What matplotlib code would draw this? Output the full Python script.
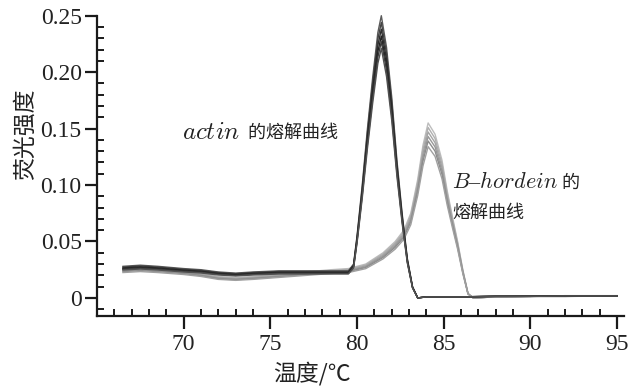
import matplotlib
matplotlib.use("Agg")
import matplotlib.pyplot as plt
from matplotlib.ticker import FixedLocator, FuncFormatter

plt.rcParams['font.family'] = ['Liberation Serif', 'Noto Sans CJK SC']
plt.rcParams['mathtext.fontset'] = 'cm'

# actin 熔解曲线 (temperature, fluorescence of the tallest replicate)
actin_temp = [66.5, 67.5, 68.5, 70.0, 71.0, 72.0, 73.0, 74.0, 75.5, 77.0, 78.5, 79.5,
              79.8, 80.0, 80.3, 80.6, 80.9, 81.2, 81.4, 81.7, 82.0, 82.3, 82.6, 82.9,
              83.2, 83.5, 84.0, 86.0, 88.0, 90.0, 92.0, 95.0]
actin_fluo = [0.028, 0.029, 0.028, 0.026, 0.025, 0.023, 0.022, 0.023, 0.024, 0.024, 0.024, 0.024,
              0.030, 0.055, 0.100, 0.150, 0.195, 0.235, 0.250, 0.222, 0.178, 0.122, 0.075, 0.035,
              0.010, 0.000, 0.001, 0.001, 0.0015, 0.0015, 0.002, 0.002]
actin_peaks = [0.250, 0.244, 0.238, 0.232, 0.227, 0.221]
actin_colors = ['#5a5a5a', '#444444', '#2e2e2e', '#222222', '#3a3a3a', '#505050']

# B-hordein 熔解曲线
hord_temp = [66.5, 67.5, 68.5, 70.0, 71.0, 72.0, 73.0, 74.0, 75.5, 77.0, 78.5, 79.5,
             80.5, 81.5, 82.2, 82.7, 83.1, 83.5, 83.8, 84.1, 84.5, 84.9, 85.2, 85.5,
             85.8, 86.1, 86.4, 86.7, 88.0, 90.0, 92.0, 95.0]
hord_fluo = [0.026, 0.027, 0.026, 0.024, 0.022, 0.019, 0.018, 0.019, 0.021, 0.023, 0.025, 0.026,
             0.030, 0.040, 0.050, 0.060, 0.075, 0.105, 0.135, 0.155, 0.145, 0.122, 0.095, 0.072,
             0.050, 0.025, 0.004, 0.000, 0.001, 0.0015, 0.0015, 0.002]
hord_peaks = [0.155, 0.151, 0.147, 0.143, 0.139, 0.134]
hord_colors = ['#bdbdbd', '#b0b0b0', '#a4a4a4', '#989898', '#8c8c8c', '#a0a0a0']

x_major = [70, 75, 80, 85, 90, 95]
x_minor = list(range(66, 96))
y_major = [0, 0.05, 0.10, 0.15, 0.20, 0.25]
y_minor = [-0.01] + [i / 100 for i in range(1, 25)]

fig = plt.figure(figsize=(6.44, 3.88), dpi=100)
ax = fig.add_axes([0.1506, 0.1856, 0.8184, 0.7739])

for pk, c in zip(hord_peaks, hord_colors):
    s = pk / max(hord_fluo)
    ax.plot(hord_temp, [v * s for v in hord_fluo], color=c, lw=1.0, clip_on=False)
for pk, c in zip(actin_peaks, actin_colors):
    s = pk / max(actin_fluo)
    ax.plot(actin_temp, [v * s for v in actin_fluo], color=c, lw=1.0, clip_on=False)

ax.set_xlim(65, 95.4)
ax.set_ylim(-0.016, 0.25)

for side in ['top', 'right']:
    ax.spines[side].set_visible(False)
for side in ['left', 'bottom']:
    ax.spines[side].set_linewidth(1.6)
    ax.spines[side].set_color('#1a1a1a')

ax.xaxis.set_major_locator(FixedLocator(x_major))
ax.xaxis.set_minor_locator(FixedLocator(x_minor))
ax.yaxis.set_major_locator(FixedLocator(y_major))
ax.yaxis.set_minor_locator(FixedLocator(y_minor))
ax.yaxis.set_major_formatter(FuncFormatter(lambda v, p: '0' if abs(v) < 1e-9 else f'{v:.2f}'))

ax.tick_params(which='major', direction='out', length=9, width=1.6, color='#1a1a1a',
               labelsize=17, labelcolor='#222222', pad=2)
ax.tick_params(axis='x', which='major', pad=4)
ax.tick_params(which='minor', direction='in', length=5, width=1.4, color='#1a1a1a')

ax.set_xlabel('温度/℃', fontsize=16.5, color='#222222', family=['Noto Sans CJK SC'],
              va='center')
ax.xaxis.set_label_coords(0.408, -0.193)
ax.set_ylabel('荧光强度', fontsize=16.5, color='#222222', family=['Noto Sans CJK SC'],
              va='center')
ax.yaxis.set_label_coords(-0.136, 0.606)

# 注释文字
t1 = ax.text(69.9, 0.146, r'$actin$', fontsize=18, color='#222222', ha='left', va='center')
ax.annotate('  的熔解曲线', xy=(1, 0.5), xycoords=t1, fontsize=13, color='#222222',
            family=['Noto Sans CJK SC'], ha='left', va='center')
t2 = ax.text(85.5, 0.102, r'$B$–$hordein$', fontsize=16, color='#222222', ha='left',
             va='center')
ax.annotate(' 的', xy=(1, 0.5), xycoords=t2, fontsize=13, color='#222222',
            family=['Noto Sans CJK SC'], ha='left', va='center')
ax.text(85.5, 0.075, '熔解曲线', fontsize=13, color='#222222', family=['Noto Sans CJK SC'],
        ha='left', va='center')

fig.savefig('out.png', dpi=100)
